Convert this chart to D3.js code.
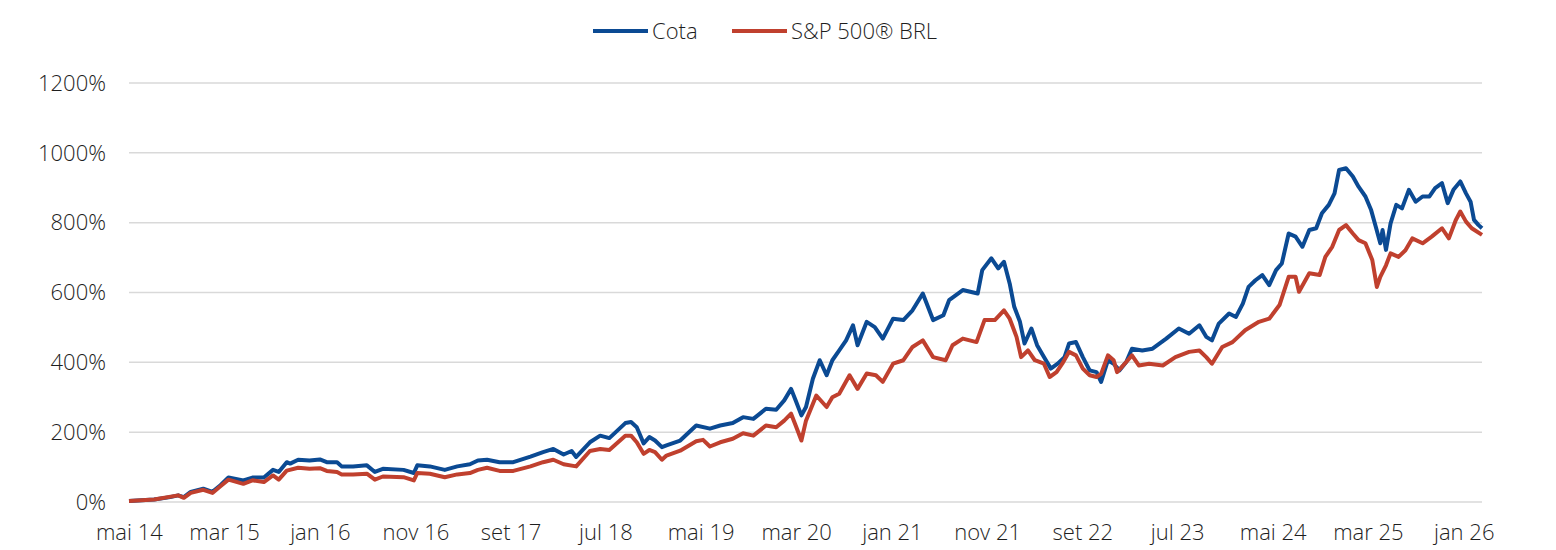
<!DOCTYPE html>
<html>
<head>
<meta charset="utf-8">
<script src="https://cdn.jsdelivr.net/npm/d3@7"></script>
<style>
  body { margin: 0; background: #fff; }
  svg text { font-family: "Open Sans", "Noto Sans", sans-serif; font-weight: 300; fill: #1e1e1e; }
</style>
</head>
<body>
<svg id="chart"></svg>
<script>
// dates are decimal years, values are % return since mai 14
const cotaDates = [2014.33,2014.55,2014.69,2014.76,2014.81,2014.87,2014.98,2015.06,2015.13,2015.20,2015.33,2015.41,2015.51,2015.59,2015.64,2015.71,2015.74,2015.81,2015.91,2016.00,2016.06,2016.15,2016.19,2016.29,2016.41,2016.48,2016.55,2016.73,2016.82,2016.85,2016.96,2017.09,2017.20,2017.31,2017.38,2017.46,2017.57,2017.69,2017.84,2017.95,2018.04,2018.13,2018.20,2018.24,2018.36,2018.45,2018.53,2018.67,2018.72,2018.77,2018.83,2018.88,2018.93,2018.99,2019.03,2019.15,2019.29,2019.41,2019.50,2019.61,2019.70,2019.79,2019.90,2019.99,2020.06,2020.12,2020.16,2020.21,2020.25,2020.31,2020.37,2020.43,2020.48,2020.54,2020.60,2020.66,2020.70,2020.78,2020.85,2020.92,2021.01,2021.10,2021.18,2021.27,2021.36,2021.45,2021.50,2021.62,2021.75,2021.79,2021.87,2021.93,2021.98,2022.03,2022.07,2022.12,2022.16,2022.22,2022.27,2022.33,2022.39,2022.45,2022.51,2022.55,2022.61,2022.67,2022.73,2022.79,2022.83,2022.89,2022.94,2022.99,2023.05,2023.10,2023.19,2023.28,2023.40,2023.51,2023.60,2023.69,2023.75,2023.80,2023.86,2023.95,2024.01,2024.07,2024.12,2024.18,2024.24,2024.30,2024.36,2024.41,2024.47,2024.53,2024.59,2024.65,2024.71,2024.76,2024.82,2024.87,2024.91,2024.97,2025.03,2025.08,2025.14,2025.19,2025.23,2025.27,2025.29,2025.32,2025.36,2025.41,2025.46,2025.52,2025.58,2025.64,2025.70,2025.75,2025.81,2025.86,2025.91,2025.97,2026.02,2026.06,2026.09,2026.13,2026.16]
const cotaValues = [3,7,14,19,14,29,38,29,48,70,62,70,70,92,86,114,110,121,119,122,114,114,102,102,105,86,95,92,83,105,102,92,102,108,119,121,114,114,130,143,152,136,146,129,171,190,183,226,229,214,168,186,176,157,162,176,219,210,219,226,243,238,267,264,291,324,291,248,272,353,406,363,406,434,463,506,449,516,501,468,525,521,549,597,521,535,578,607,597,664,698,669,688,626,559,516,454,497,449,415,382,396,415,454,458,415,377,372,344,406,396,377,401,439,434,439,468,497,482,506,473,463,511,540,530,568,616,635,650,621,664,683,769,760,731,779,784,827,851,884,951,956,932,903,875,836,789,741,779,722,798,851,841,894,860,875,875,899,913,856,894,918,884,860,808,793,784]

const spDates = [2014.33,2014.55,2014.76,2014.81,2014.87,2014.98,2015.06,2015.13,2015.20,2015.33,2015.41,2015.51,2015.59,2015.64,2015.71,2015.81,2015.91,2016.00,2016.06,2016.15,2016.19,2016.29,2016.41,2016.48,2016.55,2016.73,2016.82,2016.85,2016.96,2017.09,2017.20,2017.31,2017.38,2017.46,2017.57,2017.69,2017.84,2017.95,2018.04,2018.13,2018.24,2018.36,2018.45,2018.53,2018.67,2018.72,2018.77,2018.83,2018.88,2018.93,2018.99,2019.03,2019.15,2019.29,2019.35,2019.41,2019.50,2019.61,2019.70,2019.79,2019.90,2019.99,2020.06,2020.12,2020.16,2020.21,2020.25,2020.34,2020.43,2020.48,2020.54,2020.63,2020.70,2020.78,2020.86,2020.92,2021.01,2021.10,2021.18,2021.27,2021.36,2021.47,2021.53,2021.62,2021.74,2021.81,2021.90,2021.98,2022.03,2022.09,2022.13,2022.19,2022.25,2022.33,2022.38,2022.44,2022.49,2022.55,2022.61,2022.67,2022.73,2022.79,2022.83,2022.89,2022.94,2022.97,2023.05,2023.10,2023.16,2023.25,2023.37,2023.48,2023.60,2023.69,2023.75,2023.80,2023.89,2023.98,2024.09,2024.21,2024.30,2024.39,2024.47,2024.53,2024.56,2024.65,2024.74,2024.79,2024.85,2024.91,2024.97,2025.03,2025.08,2025.14,2025.20,2025.24,2025.27,2025.32,2025.36,2025.43,2025.49,2025.55,2025.64,2025.72,2025.81,2025.87,2025.93,2025.97,2026.02,2026.07,2026.16]
const spValues = [3,7,19,12,26,35,26,45,64,52,62,57,76,64,90,98,95,97,89,86,79,79,81,64,73,71,62,83,81,71,79,83,92,98,89,89,102,114,121,108,102,146,152,149,190,190,171,138,149,143,121,133,147,174,178,159,171,181,197,190,219,214,233,253,219,176,233,305,272,300,310,363,324,368,363,344,396,406,444,463,415,406,449,468,458,521,521,549,525,473,415,434,406,396,358,372,396,430,420,382,363,358,367,420,406,372,401,420,391,396,391,415,430,434,415,396,444,458,492,516,525,564,645,645,602,655,650,702,731,779,793,769,750,741,693,616,645,678,712,702,721,755,741,760,784,755,807,832,803,784,765]

const tickLabels = ['mai 14','mar 15','jan 16','nov 16','set 17','jul 18','mai 19','mar 20','jan 21','nov 21','set 22','jul 23','mai 24','mar 25','jan 26']
const yTicks = [0, 200, 400, 600, 800, 1000, 1200]

const seriesNames = ['Cota', 'S&P 500® BRL']
const colors = ['#0b4a93', '#c0402e']

// decimal year -> Date
const toDate = dy => {
    const yr = Math.floor(dy)
    const start = new Date(yr, 0, 1), end = new Date(yr + 1, 0, 1)
    return new Date(+start + (dy - yr) * (end - start))
}

const W = 1556, H = 550
const plotLeft = 129, plotRight = 1482, plotTop = 83, plotBottom = 502

const svg = d3.select('#chart').attr('width', W).attr('height', H)

const x = d3.scaleTime()
    .domain([toDate(cotaDates[0]), toDate(cotaDates[cotaDates.length - 1])])
    .range([plotLeft, plotRight])
const y = d3.scaleLinear().domain([0, 1200]).range([plotBottom, plotTop])

// gridlines + y labels
svg.append('g')
    .selectAll('line')
    .data(yTicks)
    .enter()
    .append('line')
    .attr('x1', plotLeft).attr('x2', plotRight)
    .attr('y1', d => y(d)).attr('y2', d => y(d))
    .attr('stroke', '#d9d9d9')
    .attr('stroke-width', 1.5)

svg.append('g')
    .selectAll('text')
    .data(yTicks)
    .enter()
    .append('text')
    .attr('x', 106)
    .attr('y', d => y(d))
    .attr('dy', '0.35em')
    .attr('text-anchor', 'end')
    .style('font-size', '22px')
    .text(d => d + '%')

// x axis labels every 10 months from mai 14
const xTickDates = tickLabels.map((t, i) => d3.timeMonth.offset(new Date(2014, 4, 1), i * 10))
const xAxis = d3.axisBottom(x)
    .tickValues(xTickDates)
    .tickFormat((d, i) => tickLabels[i])
    .tickSize(0)
    .tickPadding(0)
const gx = svg.append('g')
    .attr('transform', `translate(0, ${plotBottom})`)
    .call(xAxis)
gx.select('.domain').remove()
gx.selectAll('text')
    .attr('y', 30)
    .attr('dy', '0.35em')
    .style('font-size', '22px')
    .style('font-family', '"Open Sans", "Noto Sans", sans-serif')
    .style('font-weight', 300)
    .attr('fill', '#1e1e1e')

// lines (S&P drawn last, on top)
const line = d3.line()
    .x(d => x(toDate(d[0])))
    .y(d => y(d[1]))

const series = [
    d3.zip(cotaDates, cotaValues),
    d3.zip(spDates, spValues)
]

svg.append('g')
    .selectAll('path')
    .data(series)
    .enter()
    .append('path')
    .attr('d', line)
    .attr('fill', 'none')
    .attr('stroke', (d, i) => colors[i])
    .attr('stroke-width', 4)
    .attr('stroke-linejoin', 'round')

// legend
const legendX = [593, 732]
const legend = svg.append('g')
seriesNames.forEach((name, i) => {
    legend.append('line')
        .attr('x1', legendX[i]).attr('x2', legendX[i] + 55)
        .attr('y1', 31).attr('y2', 31)
        .attr('stroke', colors[i])
        .attr('stroke-width', 4)
    legend.append('text')
        .attr('x', legendX[i] + 59)
        .attr('y', 31)
        .attr('dy', '0.35em')
        .style('font-size', '22px')
        .text(name)
})
</script>
</body>
</html>
